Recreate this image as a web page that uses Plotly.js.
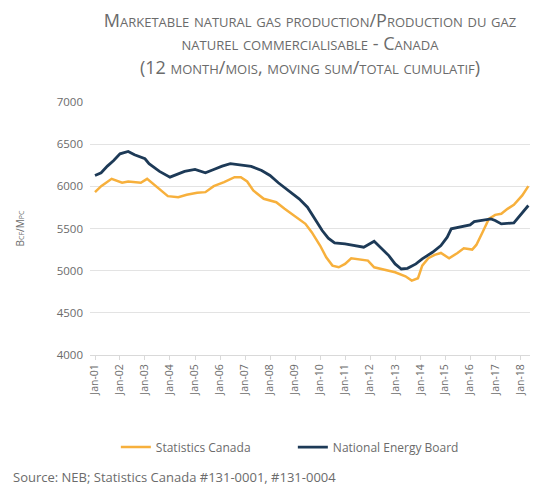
<!DOCTYPE html>
<html>
<head>
<meta charset="utf-8">
<script src="https://cdn.plot.ly/plotly-3.0.1.min.js"></script>
<style>html,body{margin:0;padding:0;background:#fff;}#chart{width:533px;height:486px;}</style>
</head>
<body>
<div id="chart"></div>
<script>
var nebDates = ["2001-01","2001-04","2001-07","2001-10","2002-01","2002-05","2002-08","2003-01","2003-03","2003-08","2004-01","2004-05","2004-08","2005-01","2005-06","2005-10","2006-02","2006-06","2006-11","2007-04","2007-09","2008-01","2008-05","2008-10","2009-03","2009-07","2009-11","2010-02","2010-05","2010-08","2011-01","2011-05","2011-10","2012-03","2012-06","2012-10","2013-01","2013-04","2013-07","2013-11","2014-02","2014-07","2014-11","2015-02","2015-04","2015-09","2016-01","2016-03","2016-07","2016-11","2017-01","2017-04","2017-10","2018-02","2018-05"];
var nebValues = [6129,6161,6240,6307,6386,6414,6374,6327,6268,6177,6109,6149,6177,6200,6161,6200,6240,6268,6256,6236,6188,6129,6042,5951,5852,5753,5595,5476,5385,5329,5317,5298,5278,5349,5278,5179,5080,5020,5028,5080,5139,5218,5298,5397,5496,5527,5543,5582,5595,5614,5595,5555,5567,5693,5773];

var scDates = ["2001-01","2001-04","2001-09","2002-02","2002-05","2002-09","2002-11","2003-02","2003-05","2003-08","2003-12","2004-05","2004-09","2005-02","2005-06","2005-10","2006-03","2006-08","2006-11","2007-02","2007-05","2007-10","2008-04","2008-08","2009-01","2009-06","2009-09","2010-01","2010-04","2010-07","2010-10","2011-01","2011-04","2011-07","2011-12","2012-03","2012-08","2013-01","2013-06","2013-09","2013-12","2014-02","2014-05","2014-08","2014-11","2015-03","2015-07","2015-10","2016-02","2016-04","2016-07","2016-10","2017-01","2017-04","2017-07","2017-10","2018-02","2018-05"];
var scValues = [5931,6002,6089,6042,6058,6050,6042,6089,6030,5971,5884,5872,5900,5923,5931,6002,6050,6109,6109,6058,5951,5852,5812,5733,5646,5555,5456,5298,5159,5060,5040,5080,5147,5139,5119,5040,5012,4981,4933,4882,4910,5060,5147,5187,5210,5147,5210,5266,5250,5305,5456,5614,5662,5674,5733,5781,5892,6002];

var seriesNames = ["Statistics Canada","National Energy Board"];
var titleText = "Marketable natural gas production/Production du gaz<br>naturel commercialisable - Canada<br>(12 month/mois, moving sum/total cumulatif)";
var yTitle = "Bcf/Mpc";
var sourceText = "Source: NEB; Statistics Canada #131-0001, #131-0004";

var grey = "#6b6b6b";
var traces = [
  {x: scDates, y: scValues, name: seriesNames[0], type: "scatter", mode: "lines",
   line: {color: "#F7B03C", width: 2.5}},
  {x: nebDates, y: nebValues, name: seriesNames[1], type: "scatter", mode: "lines",
   line: {color: "#1D3A57", width: 2.8}}
];

var layout = {
  width: 533, height: 486,
  margin: {l: 90, r: 3, t: 102, b: 131},
  paper_bgcolor: "#fff", plot_bgcolor: "#fff",
  font: {family: "Open Sans, sans-serif", color: grey, size: 11},
  title: {text: titleText, x: 0.5, xref: "paper", xanchor: "center", yref: "container", y: 0.945, yanchor: "top",
          font: {size: 18, color: grey, variant: "small-caps"}},
  xaxis: {type: "date", range: ["2000-10-20","2018-05-25"], tickformat: "%b-%y",
          tick0: "2001-01-01", dtick: "M12", tickangle: -90, showgrid: false,
          showline: true, linecolor: "#d9d9d9", linewidth: 1, ticks: "outside", tickcolor: "#d9d9d9", ticklen: 4,
          tickfont: {size: 10.5, color: grey}, zeroline: false},
  yaxis: {range: [4000, 7000], dtick: 500, tick0: 4000, showgrid: true, gridcolor: "#e3e3e3", gridwidth: 1,
          zeroline: false, showline: false, tickfont: {size: 11.5, color: grey}, ticklabelstandoff: 6,
          title: {text: yTitle, standoff: 30, font: {size: 10, color: grey, variant: "small-caps"}}},
  showlegend: true,
  legend: {orientation: "h", x: 0.461, xanchor: "center", y: -0.364, yanchor: "middle",
           font: {size: 12, color: grey}, entrywidth: 132, entrywidthmode: "pixels", itemwidth: 30},
  annotations: [{text: sourceText, xref: "paper", yref: "paper", x: -0.18, y: -0.482, xanchor: "left", yanchor: "middle",
                 showarrow: false, font: {size: 13, color: grey}}]
};

Plotly.newPlot("chart", traces, layout, {displayModeBar: false, staticPlot: true});
</script>
</body>
</html>
